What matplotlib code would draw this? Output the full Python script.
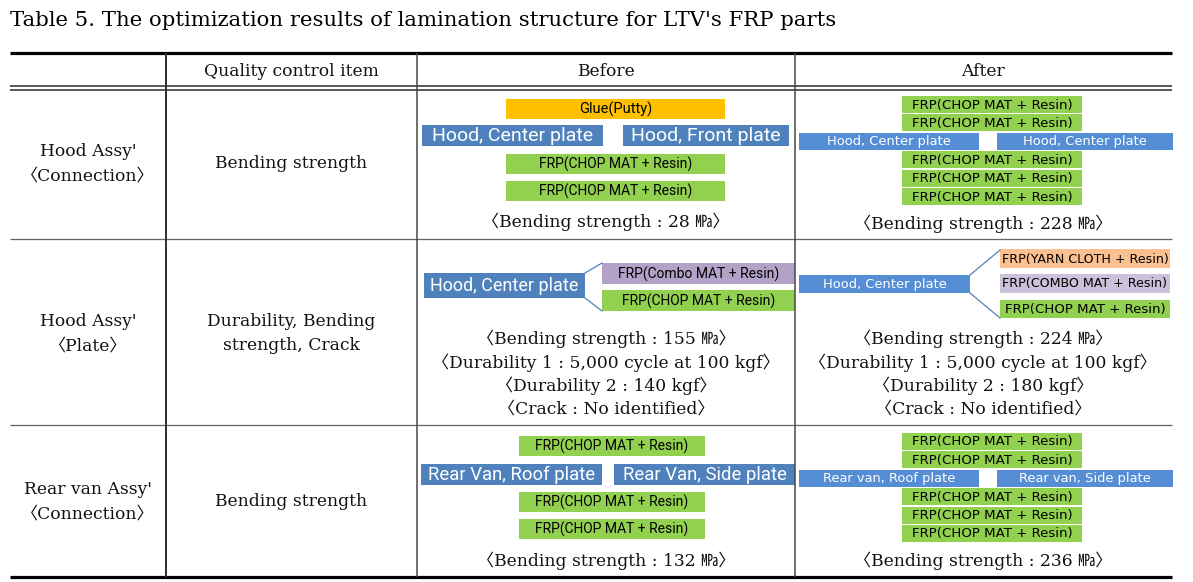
import matplotlib
matplotlib.use("Agg")
import matplotlib.pyplot as plt
from matplotlib.patches import Rectangle

# ---------------- data ----------------
title = "Table 5. The optimization results of lamination structure for LTV's FRP parts"
headers = ["Quality control item", "Before", "After"]
part_names = [["Hood Assy'", "〈Connection〉"], ["Hood Assy'", "〈Plate〉"], ["Rear van Assy'", "〈Connection〉"]]
quality_items = [["Bending strength"], ["Durability, Bending", "strength, Crack"], ["Bending strength"]]
before_results = [
    ["〈Bending strength : 28 ㎫〉"],
    ["〈Bending strength : 155 ㎫〉", "〈Durability 1 : 5,000 cycle at 100 kgf〉",
     "〈Durability 2 : 140 kgf〉", "〈Crack : No identified〉"],
    ["〈Bending strength : 132 ㎫〉"],
]
after_results = [
    ["〈Bending strength : 228 ㎫〉"],
    ["〈Bending strength : 224 ㎫〉", "〈Durability 1 : 5,000 cycle at 100 kgf〉",
     "〈Durability 2 : 180 kgf〉", "〈Crack : No identified〉"],
    ["〈Bending strength : 236 ㎫〉"],
]
chop_b = "FRP(CHOP MAT + Resin)"
chop_a = "FRP(CHOP MAT + Resin)"
# layer stacks (top to bottom); tuples are split plates
before_layers_1 = ["Glue(Putty)", ("Hood, Center plate", "Hood, Front plate"), chop_b, chop_b]
after_layers_1 = [chop_a, chop_a, ("Hood, Center plate", "Hood, Center plate"), chop_a, chop_a, chop_a]
before_layers_3 = [chop_b, ("Rear Van, Roof plate", "Rear Van, Side plate"), chop_b, chop_b]
after_layers_3 = [chop_a, chop_a, ("Rear van, Roof plate", "Rear van, Side plate"), chop_a, chop_a, chop_a]
before_branch_2 = ["Hood, Center plate", ["FRP(Combo MAT + Resin)", "FRP(CHOP MAT + Resin)"]]
after_branch_2 = ["Hood, Center plate", ["FRP(YARN CLOTH + Resin)", "FRP(COMBO MAT + Resin)", "FRP(CHOP MAT + Resin)"]]

# ---------------- styles ----------------
W, H = 1193, 582
SERIF = ["DejaVu Serif", "Noto Sans CJK KR"]
NARROW = ["Liberation Sans Narrow", "Roboto", "DejaVu Sans"]
WIDE = ["DejaVu Sans"]
C_GREEN = "#92D050"
C_YELLOW = "#FFC000"
C_BLUE_B = "#4F81BD"
C_BLUE_A = "#558ED5"
C_PURPLE_B = "#B3A2C7"
C_PURPLE_A = "#CCC1DA"
C_ORANGE = "#FAC090"

fig = plt.figure(figsize=(W / 100, H / 100), dpi=100)
ax = fig.add_axes([0, 0, 1, 1])
ax.set_xlim(0, W)
ax.set_ylim(H, 0)
ax.axis("off")

def px(lw):
    return lw * 0.72

def hline(y, x0=10, x1=1172, lw=1.5, color="#333333"):
    ax.plot([x0, x1], [y, y], color=color, lw=px(lw), solid_capstyle="butt")

def vline(x, y0, y1, lw=1.5, color="#333333"):
    ax.plot([x, x], [y0, y1], color=color, lw=px(lw), solid_capstyle="butt")

def txt(x, y, s, size=12.3, family=SERIF, color="#111111", ha="center"):
    ax.text(x, y, s, ha=ha, va="center", fontsize=size, family=family, color=color)

def box(x0, y0, x1, y1, color, label, tcolor="black", size=9, family=WIDE):
    ax.add_patch(Rectangle((x0, y0), x1 - x0, y1 - y0, facecolor=color, edgecolor="none"))
    ax.text((x0 + x1) / 2, (y0 + y1) / 2 + 0.5, label, ha="center", va="center",
            fontsize=size, family=family, color=tcolor)

# title
txt(10, 21, title, size=15.3, ha="left", color="black")

# table rules
hline(53, lw=3.2, color="black")
hline(86, lw=1.6)
hline(90, lw=1.6)
hline(239, lw=1.3, color="#666666")
hline(425, lw=1.3, color="#666666")
hline(577, lw=3.2, color="black")
vline(166, 53, 577, lw=2, color="#333333")
vline(417, 53, 577, lw=1.5, color="#444444")
vline(795, 53, 577, lw=1.5, color="#444444")

# headers
header_x = [291, 606, 983]
for hx, h in zip(header_x, headers):
    txt(hx, 71, h)

# left columns
row_mid = [164, 334, 502]
for mid, names, items in zip(row_mid, part_names, quality_items):
    n = len(names)
    for i, s in enumerate(names):
        txt(88, mid + (i - (n - 1) / 2) * 24, s)
    n = len(items)
    for i, s in enumerate(items):
        txt(291, mid + (i - (n - 1) / 2) * 24, s)

# results texts
def results(xc, y0, lines, step=23.5):
    for i, s in enumerate(lines):
        txt(xc, y0 + i * step, s)

results(606, 222, before_results[0])
results(983, 224, after_results[0])
results(606, 339, before_results[1])
results(983, 339, after_results[1])
results(606, 561, before_results[2])
results(983, 561, after_results[2])

# ---------- before stacks (rows 1 and 3) ----------
def before_stack(layers, ys, green_x, plate_x, h=21, plate_size=14):
    for lab, y in zip(layers, ys):
        if isinstance(lab, tuple):
            for (xa, xb), s in zip(plate_x, lab):
                box(xa, y, xb, y + h, C_BLUE_B, s, "white", plate_size, NARROW)
        else:
            col = C_YELLOW if lab.startswith("Glue") else C_GREEN
            fs = 10.5 if lab.startswith("Glue") else 10
            box(green_x[0], y, green_x[1], y + (h - 1), col, lab, "black", fs, NARROW)

before_stack(before_layers_1, [99, 125, 154, 181], (506, 725), [(422, 603), (623, 789)], plate_size=14)
before_stack(before_layers_3, [436, 464, 492, 519], (519, 705), [(421, 602), (614, 795)], plate_size=13.3)

# ---------- after stacks (rows 1 and 3) ----------
def after_stack(layers, y_top, green_x=(902, 1082), plate_x=((799, 979), (997, 1173)), h=17, gap=1.4):
    y = y_top
    for lab in layers:
        if isinstance(lab, tuple):
            for (xa, xb), s in zip(plate_x, lab):
                box(xa, y, xb, y + h, C_BLUE_A, s, "white", 9.4, WIDE)
        else:
            box(green_x[0], y, green_x[1], y + h, C_GREEN, lab, "black", 9.6, WIDE)
        y += h + gap

after_stack(after_layers_1, 96)
after_stack(after_layers_3, 433)

# ---------- branch diagrams (row 2) ----------
# before
bx0, bx1, by0, by1 = 424, 585, 273, 298
box(bx0, by0, bx1, by1, C_BLUE_B, before_branch_2[0], "white", 13, NARROW)
b_cols = [C_PURPLE_B, C_GREEN]
b_rows = [(263, 284), (290, 311)]
for (ya, yb), col, s in zip(b_rows, b_cols, before_branch_2[1]):
    box(602, ya, 795, yb, col, s, "black", 10, NARROW)
ax.plot([bx1, 602], [by0, 263], color=C_BLUE_B, lw=0.9)
ax.plot([bx1, 602], [by1, 311], color=C_BLUE_B, lw=0.9)

# after
ax0, ax1, ay0, ay1 = 799, 970, 275, 293
box(ax0, ay0, ax1, ay1, C_BLUE_A, after_branch_2[0], "white", 9.4, WIDE)
a_cols = [C_ORANGE, C_PURPLE_A, C_GREEN]
a_rows = [(249, 268), (274, 293), (300, 318)]
a_sizes = [9.1, 9.1, 9.6]
for (ya, yb), col, s, fs in zip(a_rows, a_cols, after_branch_2[1], a_sizes):
    box(1000, ya, 1170, yb, col, s, "black", fs, WIDE)
ax.plot([ax1, 1000], [ay0, 250], color=C_BLUE_B, lw=0.9)
ax.plot([ax1, 1000], [ay1, 318], color=C_BLUE_B, lw=0.9)

fig.savefig("out.png", dpi=100, facecolor="white")
